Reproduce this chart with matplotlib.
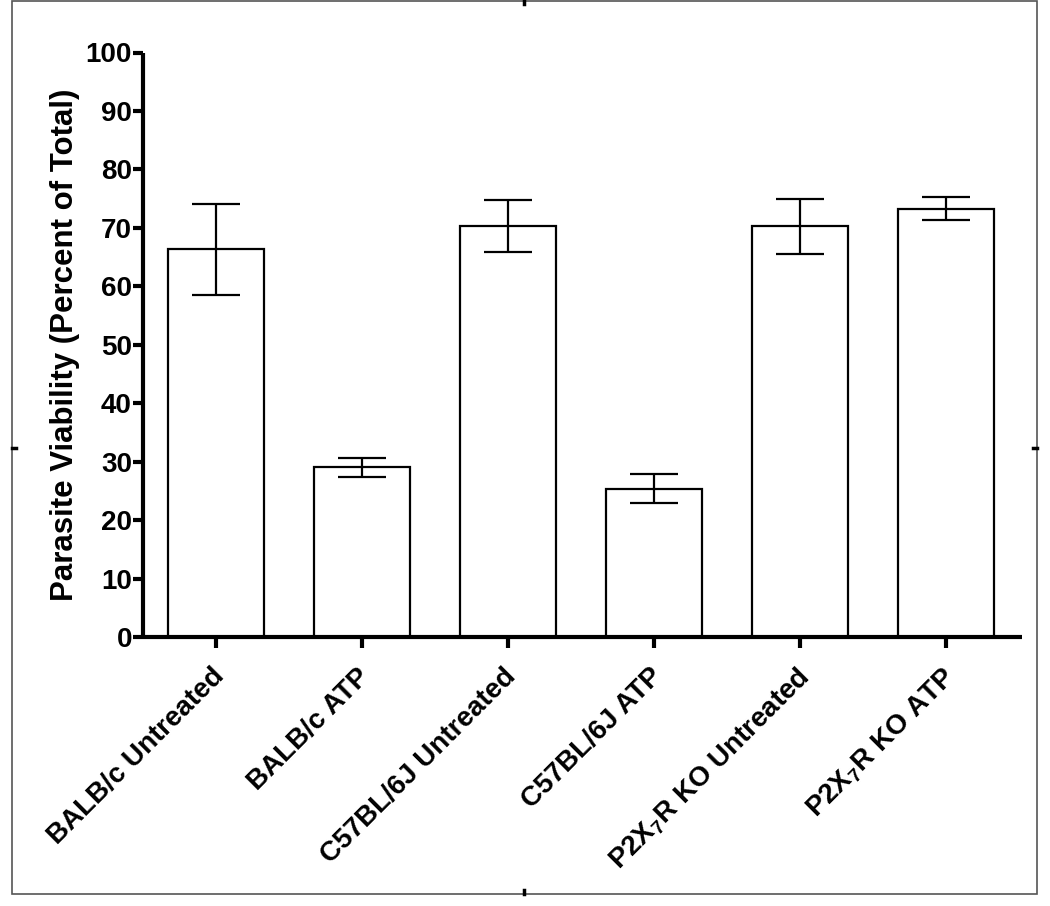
import numpy as np
import matplotlib
matplotlib.use('Agg')
import matplotlib.pyplot as plt
from matplotlib.lines import Line2D
from matplotlib.patches import Rectangle
from matplotlib.transforms import ScaledTranslation

plt.rcParams['font.family'] = ['Liberation Sans', 'DejaVu Sans']
plt.rcParams['font.weight'] = 'bold'
plt.rcParams['mathtext.fontset'] = 'custom'
plt.rcParams['mathtext.rm'] = 'Liberation Sans:bold'
plt.rcParams['mathtext.it'] = 'Liberation Sans:bold'
plt.rcParams['mathtext.bf'] = 'Liberation Sans:bold'
plt.rcParams['mathtext.default'] = 'rm'

# data
groups = ['BALB/c Untreated', 'BALB/c ATP', 'C57BL/6J Untreated',
          'C57BL/6J ATP', 'P2X$_7$R KO Untreated', 'P2X$_7$R KO ATP']
viability = [66.3, 29.0, 70.3, 25.4, 70.3, 73.3]
sem = [7.8, 1.6, 4.5, 2.5, 4.7, 1.9]
yticks = list(range(0, 101, 10))

W, H = 1050, 906
fig = plt.figure(figsize=(W / 100, H / 100), dpi=100)
ax = fig.add_axes([143 / W, 1 - 637 / H, (1022 - 143) / W, (637 - 52.5) / H])

x = np.arange(len(groups))
ax.bar(x, viability, width=0.66, color='white', edgecolor='black',
       linewidth=1.6, zorder=2)
ax.errorbar(x, viability, yerr=sem, fmt='none', ecolor='black',
            elinewidth=1.6, capsize=17.5, capthick=1.6, zorder=3)

ax.set_xlim(-0.5, 5.52)
ax.set_ylim(0, 100)
ax.set_yticks(yticks)
ax.set_xticks(x)
ax.set_xticklabels(groups, rotation=45, ha='right', va='top',
                   rotation_mode='anchor', fontsize=20, fontweight='bold')
ax.tick_params(axis='y', length=7, width=3, labelsize=20, pad=1)
ax.tick_params(axis='x', length=8, width=3, pad=11)
for lab in ax.get_yticklabels():
    lab.set_fontweight('bold')
# nudge rotated labels a little to the left
shift = ScaledTranslation(-5 / 100, 0, fig.dpi_scale_trans)
for lab in ax.get_xticklabels():
    lab.set_transform(lab.get_transform() + shift)

for s in ['top', 'right']:
    ax.spines[s].set_visible(False)
for s in ['left', 'bottom']:
    ax.spines[s].set_linewidth(3)
    ax.spines[s].set_capstyle('butt')

ax.set_ylabel('Parasite Viability (Percent of Total)', fontsize=22.5,
              fontweight='bold', labelpad=4)

# outer frame with small mid ticks
fig.add_artist(Rectangle((11.5 / W, 1 - 894 / H), (1037 - 11.5) / W,
                         (894 - 0.8) / H, transform=fig.transFigure,
                         fill=False, edgecolor='#555555', linewidth=1.2))
tick_kw = dict(transform=fig.transFigure, color='black', linewidth=2.5)
fig.add_artist(Line2D([524 / W, 524 / W], [1, 1 - 4 / H], **tick_kw))
fig.add_artist(Line2D([524 / W, 524 / W], [1 - 894 / H, 1 - 890 / H], **tick_kw))
fig.add_artist(Line2D([11.5 / W, 15.5 / W], [1 - 448 / H, 1 - 448 / H], **tick_kw))
fig.add_artist(Line2D([1033 / W, 1037 / W], [1 - 448 / H, 1 - 448 / H], **tick_kw))

fig.savefig('out.png', dpi=100)
